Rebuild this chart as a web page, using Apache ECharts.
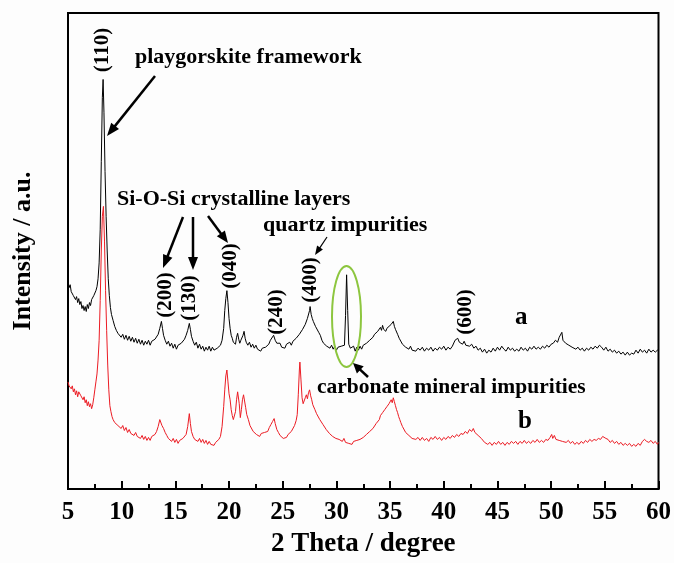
<!DOCTYPE html>
<html>
<head>
<meta charset="utf-8">
<title>XRD</title>
<script src="https://cdn.jsdelivr.net/npm/echarts@6/dist/echarts.min.js"></script>
<style>
  html, body { margin: 0; padding: 0; background: #fdfdfd; }
  #chart { width: 674px; height: 563px; }
</style>
</head>
<body>
<div id="chart"></div>
<script>
// x ticks (2 Theta, degree)
var xTicks = [5, 10, 15, 20, 25, 30, 35, 40, 45, 50, 55, 60];

// curve a (black), [2theta, intensity a.u.]
var seriesA = [
  [5.0,208],[5.1,203],[5.2,206],[5.3,199],[5.4,201],[5.5,195],[5.6,197],[5.7,191],[5.8,194],[5.9,188],
  [6.0,192],[6.1,186],[6.2,189],[6.3,182],[6.4,185],[6.5,180],[6.6,184],[6.7,179],[6.8,186],[6.9,182],
  [7.0,188],[7.1,185],[7.2,191],[7.3,189],[7.4,195],[7.5,193],[7.6,200],[7.7,204],[7.8,212],[7.9,228],
  [8.0,262],[8.1,330],[8.2,395],[8.27,413],[8.35,380],[8.45,320],[8.55,275],[8.65,240],[8.75,212],[8.85,195],
  [8.95,183],[9.05,176],[9.2,170],[9.35,164],[9.5,160],[9.65,157],[9.8,159],[9.95,153],[10.1,156],[10.25,151],
  [10.4,155],[10.55,150],[10.7,154],[10.85,149],[11.0,153],[11.15,148],[11.3,152],[11.45,147],[11.6,151],[11.75,146],
  [11.9,150],[12.05,145],[12.2,149],[12.35,146],[12.5,150],[12.65,145],[12.8,149],[12.95,147],[13.1,151],[13.25,150],
  [13.4,156],[13.55,162],[13.7,169],[13.8,162],[13.9,155],[14.05,150],[14.2,146],[14.35,149],[14.5,144],[14.65,147],
  [14.8,142],[14.95,146],[15.1,141],[15.25,145],[15.4,143],[15.55,147],[15.7,146],[15.85,151],[16.0,155],[16.15,160],
  [16.3,167],[16.4,161],[16.5,154],[16.65,149],[16.8,145],[16.95,148],[17.1,142],[17.25,146],[17.4,141],[17.55,144],
  [17.7,139],[17.85,143],[18.0,140],[18.15,144],[18.3,139],[18.45,143],[18.6,140],[18.75,138],[18.9,142],[19.05,140],
  [19.2,145],[19.35,150],[19.5,162],[19.6,180],[19.7,192],[19.8,200],[19.9,188],[20.0,172],[20.1,162],[20.2,155],
  [20.3,152],[20.4,148],[20.5,150],[20.6,146],[20.7,153],[20.8,157],[20.9,151],[21.0,147],[21.1,150],[21.2,149],
  [21.3,155],[21.4,159],[21.5,152],[21.6,148],[21.75,145],[21.9,148],[22.05,143],[22.2,146],[22.35,142],[22.5,145],
  [22.65,141],[22.8,143],[22.95,139],[23.1,142],[23.25,140],[23.4,143],[23.55,141],[23.7,146],[23.85,150],[24.0,152],
  [24.15,155],[24.3,150],[24.45,147],[24.6,145],[24.75,147],[24.9,143],[25.05,145],[25.2,142],[25.35,146],[25.5,144],
  [25.65,148],[25.8,145],[25.95,149],[26.1,147],[26.25,152],[26.4,151],[26.55,156],[26.7,155],[26.85,161],[27.0,160],
  [27.1,166],[27.2,164],[27.3,172],[27.4,170],[27.5,180],[27.55,184],[27.65,176],[27.75,172],[27.85,169],[27.95,170],
  [28.05,164],[28.2,162],[28.35,158],[28.5,155],[28.65,150],[28.8,147],[28.95,149],[29.1,144],[29.25,146],[29.4,142],
  [29.55,145],[29.7,141],[29.85,144],[30.0,140],[30.15,143],[30.3,141],[30.45,144],[30.6,142],[30.75,145],[30.85,175],
  [30.95,216],[31.05,180],[31.15,146],[31.3,142],[31.45,140],[31.6,144],[31.75,139],[31.9,143],[32.05,140],[32.2,144],
  [32.35,141],[32.5,145],[32.65,143],[32.8,147],[32.95,146],[33.1,150],[33.25,149],[33.4,153],[33.55,156],[33.7,154],
  [33.85,159],[34.0,157],[34.1,163],[34.2,160],[34.3,165],[34.4,161],[34.5,163],[34.6,159],[34.7,162],[34.8,160],
  [34.9,164],[35.0,162],[35.1,166],[35.2,164],[35.3,169],[35.4,164],[35.5,161],[35.6,159],[35.7,156],[35.85,152],
  [36.0,150],[36.15,146],[36.3,148],[36.45,143],[36.6,145],[36.75,141],[36.9,144],[37.05,140],[37.2,142],[37.4,139],
  [37.6,142],[37.8,140],[38.0,143],[38.2,139],[38.4,142],[38.6,140],[38.8,143],[39.0,139],[39.2,142],[39.4,140],
  [39.6,143],[39.8,141],[40.0,144],[40.2,140],[40.4,143],[40.6,141],[40.8,144],[40.95,142],[41.05,150],[41.15,148],
  [41.3,152],[41.45,148],[41.6,150],[41.75,146],[41.9,149],[42.05,145],[42.2,147],[42.4,144],[42.6,146],[42.8,142],
  [43.0,144],[43.2,140],[43.4,142],[43.6,138],[43.8,141],[44.0,137],[44.2,140],[44.4,138],[44.6,142],[44.8,139],
  [45.0,143],[45.2,140],[45.4,144],[45.6,141],[45.8,139],[46.0,143],[46.2,140],[46.4,142],[46.6,139],[46.8,141],
  [47.0,139],[47.2,143],[47.4,140],[47.6,142],[47.8,139],[48.0,143],[48.2,141],[48.4,144],[48.6,141],[48.8,143],
  [49.0,141],[49.2,144],[49.4,142],[49.6,145],[49.8,143],[50.0,146],[50.2,147],[50.4,150],[50.6,148],[50.75,153],
  [50.85,151],[51.0,158],[51.1,150],[51.2,152],[51.35,147],[51.5,149],[51.65,145],[51.8,147],[51.95,143],[52.1,145],
  [52.3,141],[52.5,143],[52.7,140],[52.9,142],[53.1,139],[53.3,142],[53.5,140],[53.7,143],[53.9,141],[54.1,144],
  [54.3,142],[54.5,145],[54.7,143],[54.9,140],[55.1,143],[55.3,139],[55.5,141],[55.7,138],[55.9,140],[56.1,137],
  [56.3,139],[56.5,136],[56.7,138],[56.9,135],[57.1,138],[57.3,135],[57.5,137],[57.7,136],[57.9,140],[58.1,137],
  [58.3,141],[58.5,138],[58.7,140],[58.9,137],[59.1,141],[59.3,138],[59.5,140],[59.7,138],[59.9,140],[60.0,139]
];

// curve b (red)
var seriesB = [
  [5.0,108],[5.1,104],[5.2,106],[5.3,101],[5.4,104],[5.5,98],[5.6,101],[5.7,95],[5.8,99],[5.9,93],
  [6.0,98],[6.1,100],[6.2,94],[6.3,96],[6.4,90],[6.5,93],[6.6,87],[6.7,90],[6.8,84],[6.9,88],
  [7.0,83],[7.1,86],[7.2,81],[7.3,85],[7.4,92],[7.5,100],[7.6,108],[7.7,116],[7.8,130],[7.9,150],
  [8.0,190],[8.1,240],[8.2,275],[8.3,285],[8.4,250],[8.5,200],[8.6,160],[8.7,125],[8.8,100],[8.9,84],
  [9.0,78],[9.1,73],[9.2,70],[9.35,67],[9.5,69],[9.65,64],[9.8,66],[9.95,61],[10.1,64],[10.25,59],
  [10.4,62],[10.55,57],[10.7,60],[10.85,56],[11.0,58],[11.15,54],[11.3,57],[11.45,53],[11.6,55],[11.75,51],
  [11.9,54],[12.05,50],[12.2,53],[12.35,49],[12.5,52],[12.65,49],[12.8,53],[12.95,51],[13.1,55],[13.25,58],
  [13.4,63],[13.55,70],[13.65,68],[13.75,64],[13.9,61],[14.05,57],[14.2,54],[14.35,51],[14.5,53],[14.65,48],
  [14.8,51],[14.95,47],[15.1,50],[15.25,46],[15.4,49],[15.55,47],[15.7,51],[15.85,50],[16.0,55],[16.15,63],
  [16.3,76],[16.4,66],[16.5,58],[16.65,53],[16.8,50],[16.95,52],[17.1,48],[17.25,51],[17.4,47],[17.55,50],
  [17.7,46],[17.85,49],[18.0,45],[18.15,48],[18.3,45],[18.45,47],[18.6,44],[18.75,47],[18.9,45],[19.05,50],
  [19.2,53],[19.35,63],[19.5,83],[19.6,100],[19.7,114],[19.8,120],[19.9,108],[20.0,96],[20.1,90],[20.2,80],
  [20.3,74],[20.4,70],[20.5,68],[20.6,78],[20.7,90],[20.8,98],[20.85,100],[20.95,86],[21.05,72],[21.15,80],
  [21.25,90],[21.35,95],[21.45,93],[21.55,82],[21.65,75],[21.8,70],[21.95,64],[22.1,62],[22.25,58],[22.4,60],
  [22.55,55],[22.7,57],[22.85,53],[23.0,56],[23.15,54],[23.3,57],[23.45,55],[23.6,58],[23.75,62],[23.9,65],
  [24.05,68],[24.2,71],[24.3,66],[24.45,60],[24.6,57],[24.75,54],[24.9,55],[25.05,51],[25.2,53],[25.35,52],
  [25.5,55],[25.65,54],[25.8,58],[25.95,60],[26.1,64],[26.25,69],[26.35,75],[26.45,95],[26.55,120],[26.6,128],
  [26.7,110],[26.8,92],[26.9,86],[27.0,88],[27.1,92],[27.2,95],[27.3,91],[27.4,97],[27.5,100],[27.6,94],
  [27.7,90],[27.8,85],[27.9,83],[28.0,80],[28.15,76],[28.3,74],[28.45,70],[28.6,71],[28.75,65],[28.9,63],
  [29.05,60],[29.2,58],[29.35,56],[29.5,57],[29.65,53],[29.8,55],[29.95,51],[30.1,53],[30.25,50],[30.4,52],
  [30.55,48],[30.7,51],[30.85,47],[31.0,49],[31.15,46],[31.3,48],[31.45,45],[31.6,48],[31.75,46],[31.9,49],
  [32.05,47],[32.2,50],[32.35,49],[32.5,52],[32.65,51],[32.8,55],[32.95,54],[33.1,58],[33.25,57],[33.4,61],
  [33.55,63],[33.7,66],[33.85,65],[34.0,70],[34.1,74],[34.2,72],[34.3,77],[34.4,76],[34.5,80],[34.6,78],
  [34.7,83],[34.8,81],[34.9,86],[35.0,84],[35.1,90],[35.2,87],[35.3,92],[35.4,88],[35.5,84],[35.6,80],
  [35.7,77],[35.8,73],[35.9,70],[36.0,67],[36.15,63],[36.3,61],[36.45,57],[36.6,58],[36.75,54],[36.9,55],
  [37.05,51],[37.2,53],[37.4,50],[37.6,52],[37.8,49],[38.0,52],[38.2,49],[38.4,51],[38.6,48],[38.8,52],
  [39.0,50],[39.2,53],[39.4,50],[39.6,52],[39.8,49],[40.0,52],[40.2,50],[40.4,53],[40.6,51],[40.8,54],
  [41.0,52],[41.2,55],[41.4,53],[41.6,56],[41.8,55],[42.0,58],[42.2,56],[42.4,60],[42.6,58],[42.75,61],
  [42.9,57],[43.05,58],[43.2,54],[43.35,55],[43.5,51],[43.65,50],[43.8,47],[43.95,48],[44.1,45],[44.3,47],
  [44.5,44],[44.7,47],[44.9,45],[45.1,48],[45.3,45],[45.5,47],[45.7,44],[45.9,47],[46.1,45],[46.3,48],
  [46.5,46],[46.7,48],[46.9,45],[47.1,48],[47.3,46],[47.5,49],[47.7,46],[47.9,48],[48.1,46],[48.3,49],
  [48.5,47],[48.7,50],[48.9,47],[49.1,49],[49.3,47],[49.5,50],[49.7,49],[49.9,52],[50.05,55],[50.15,51],
  [50.3,54],[50.45,50],[50.6,52],[50.75,49],[50.9,51],[51.05,48],[51.2,50],[51.4,47],[51.6,49],[51.8,46],
  [52.0,48],[52.2,45],[52.4,47],[52.6,45],[52.8,48],[53.0,46],[53.2,49],[53.4,47],[53.6,50],[53.8,48],
  [54.0,50],[54.2,49],[54.4,51],[54.6,50],[54.8,53],[54.95,55],[55.1,51],[55.3,50],[55.5,47],[55.7,49],
  [55.9,46],[56.1,48],[56.3,45],[56.5,47],[56.7,44],[56.9,46],[57.1,44],[57.3,46],[57.5,43],[57.7,45],
  [57.9,43],[58.1,46],[58.3,44],[58.5,48],[58.7,50],[58.9,48],[59.1,47],[59.3,49],[59.5,46],[59.7,48],
  [59.9,45],[60.0,47]
];

// reflection labels
var hklLabels = ["(110)", "(200)", "(130)", "(040)", "(240)", "(400)", "(600)"];
var curveNames = ["a", "b"];

var SERIF = "'Liberation Serif', 'Times New Roman', serif";

// arrow = shaft line + filled triangle head
function arrow(x1, y1, x2, y2, w, headLen, headW) {
  var dx = x2 - x1, dy = y2 - y1;
  var len = Math.sqrt(dx * dx + dy * dy);
  var ux = dx / len, uy = dy / len;
  var bx = x2 - ux * headLen, by = y2 - uy * headLen;
  return [
    { type: 'line', shape: { x1: x1, y1: y1, x2: bx + ux * 1, y2: by + uy * 1 },
      style: { stroke: '#000', lineWidth: w }, z: 10 },
    { type: 'polygon', shape: { points: [[x2, y2], [bx - uy * headW, by + ux * headW], [bx + uy * headW, by - ux * headW]] },
      style: { fill: '#000' }, z: 10 }
  ];
}

function label(text, x, y, size, rotate) {
  return {
    type: 'text', x: x, y: y, rotation: rotate ? Math.PI / 2 : 0, z: 10,
    style: { text: text, font: 'bold ' + size + 'px ' + SERIF, fill: '#000', align: rotate ? 'center' : 'left', verticalAlign: 'middle' }
  };
}

var chart = echarts.init(document.getElementById('chart'));

var graphics = [
  label(hklLabels[0], 103, 50, 21, true),
  label(hklLabels[1], 166, 295, 21, true),
  label(hklLabels[2], 190, 298, 21, true),
  label(hklLabels[3], 231, 266, 21, true),
  label(hklLabels[4], 277, 312, 21, true),
  label(hklLabels[5], 311, 280, 21, true),
  label(hklLabels[6], 466, 312, 21, true),
  label('playgorskite framework', 135, 57, 22, false),
  label('Si-O-Si crystalline layers', 117, 199, 22, false),
  label('quartz impurities', 263, 225, 22, false),
  label('carbonate mineral impurities', 317, 387, 21.5, false),
  label(curveNames[0], 515, 318, 25, false),
  label(curveNames[1], 518, 422, 25, false),
  { type: 'ellipse', shape: { cx: 346.5, cy: 316.5, rx: 14.5, ry: 50.5 },
    style: { stroke: '#8dc63f', lineWidth: 2, fill: null }, z: 9 }
]
  .concat(arrow(155, 76, 107, 136, 2.5, 13, 5))
  .concat(arrow(183, 217, 163, 268, 2.5, 13, 5))
  .concat(arrow(193, 217, 193, 270, 2.5, 13, 5))
  .concat(arrow(208, 216, 228, 243, 2.5, 12, 5))
  .concat(arrow(327, 237, 315, 255, 1.2, 9, 3.5))
  .concat(arrow(368, 377, 353, 363, 2.5, 10, 5));

var option = {
  backgroundColor: '#fdfdfd',
  animation: false,
  grid: { left: 68, right: 15, top: 13, bottom: 70, show: true, borderColor: '#000', borderWidth: 2, backgroundColor: 'transparent' },
  xAxis: {
    type: 'value', min: xTicks[0], max: xTicks[xTicks.length - 1], interval: 5,
    name: '2 Theta / degree', nameLocation: 'middle', nameGap: 42,
    nameTextStyle: { fontFamily: SERIF, fontWeight: 'bold', fontSize: 27, color: '#000' },
    axisLine: { show: true, lineStyle: { color: '#000', width: 2 } },
    axisTick: { show: true, inside: true, length: 8, lineStyle: { color: '#000', width: 2 } },
    minorTick: { show: true, splitNumber: 2, length: 5, lineStyle: { color: '#000', width: 2 } },
    axisLabel: { fontFamily: SERIF, fontWeight: 'bold', fontSize: 25, color: '#000', margin: 11 },
    splitLine: { show: false }
  },
  yAxis: {
    type: 'value', min: 0, max: 480,
    name: 'Intensity / a.u.', nameLocation: 'middle', nameGap: 32,
    nameTextStyle: { fontFamily: SERIF, fontWeight: 'bold', fontSize: 26, color: '#000' },
    axisLine: { show: true, lineStyle: { color: '#000', width: 2 } },
    axisTick: { show: false }, axisLabel: { show: false }, splitLine: { show: false }
  },
  series: [
    { name: curveNames[0], type: 'line', data: seriesA, showSymbol: false, lineStyle: { color: '#000', width: 1 }, z: 3 },
    { name: curveNames[1], type: 'line', data: seriesB, showSymbol: false, lineStyle: { color: '#ec1c24', width: 1 }, z: 2 }
  ],
  graphic: graphics
};

chart.setOption(option);
</script>
</body>
</html>
